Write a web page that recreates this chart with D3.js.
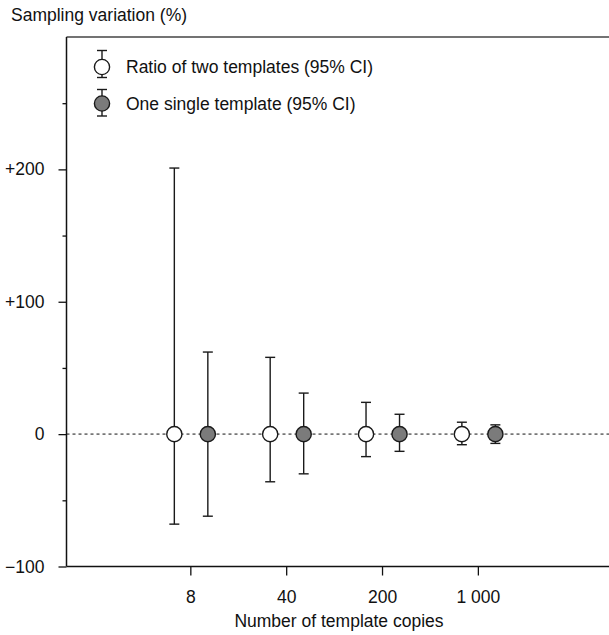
<!DOCTYPE html>
<html>
<head>
<meta charset="utf-8">
<style>
  body { margin: 0; background: #fff; }
  svg { display: block; }
  text { font-family: "Liberation Sans", Arial, sans-serif; fill: #111; }
  .axis text { font-size: 17.5px; }
  .axis line { stroke: #111; stroke-width: 1.3; }
</style>
</head>
<body>
<svg width="609" height="635"></svg>
<script src="https://cdnjs.cloudflare.com/ajax/libs/d3/7.8.5/d3.min.js"></script>
<script>
// copies on the x axis (log scale)
let copies = [8, 40, 200, 1000]
let copyLabels = ["8", "40", "200", "1 000"]

// ratio of two templates: mean and 95% CI
let ratioMean = [0, 0, 0, 0]
let ratioLow  = [-68, -36, -17, -8]
let ratioHigh = [201, 58, 24, 9]

// one single template: mean and 95% CI
let singleMean = [0, 0, 0, 0]
let singleLow  = [-62, -30, -13, -7]
let singleHigh = [62, 31, 15, 7]

let yMajor = [-100, 0, 100, 200]
let yMinor = [-50, 50, 150, 250]
let yLabels = ["\u2212100", "0", "+100", "+200"]

let seriesNames = ["Ratio of two templates (95% CI)", "One single template (95% CI)"]

let svg = d3.select("svg")

let plotLeft = 66.5, plotTop = 37, plotBottom = 566.5, plotRight = 609

let x = d3.scaleLog()
    .domain([1, 10000])
    .range([plotLeft, 615])

let y = d3.scaleLinear()
    .domain([-100, 300])
    .range([plotBottom, plotTop])

// frame lines
svg.append("line")
    .attr("x1", plotLeft).attr("x2", plotRight)
    .attr("y1", plotTop).attr("y2", plotTop)
    .attr("stroke", "#444").attr("stroke-width", 1.5)

// zero reference line
svg.append("line")
    .attr("x1", plotLeft).attr("x2", plotRight)
    .attr("y1", y(0)).attr("y2", y(0))
    .attr("stroke", "#777").attr("stroke-width", 1.6)
    .attr("stroke-dasharray", "3,3")

// y axis: major + minor ticks
svg.append("g")
    .attr("class", "axis")
    .attr("transform", `translate(${plotLeft},0)`)
    .call(d3.axisLeft(y).tickValues(yMajor).tickSize(8).tickSizeOuter(0).tickPadding(14)
        .tickFormat((d, i) => yLabels[i]))
    .call(g => g.select(".domain").remove())

svg.append("g")
    .attr("class", "axis")
    .attr("transform", `translate(${plotLeft},0)`)
    .call(d3.axisLeft(y).tickValues(yMinor).tickSize(4).tickSizeOuter(0).tickFormat(""))
    .call(g => g.select(".domain").remove())

// x axis
svg.append("g")
    .attr("class", "axis")
    .attr("transform", `translate(0,${plotBottom})`)
    .call(d3.axisBottom(x).tickValues(copies).tickSize(9).tickSizeOuter(0).tickPadding(15)
        .tickFormat((d, i) => copyLabels[i]))
    .call(g => g.select(".domain").remove())

svg.append("line")
    .attr("x1", plotLeft).attr("x2", plotLeft)
    .attr("y1", plotTop).attr("y2", plotBottom)
    .attr("stroke", "#111").attr("stroke-width", 1.5)

svg.append("line")
    .attr("x1", plotLeft).attr("x2", plotRight)
    .attr("y1", plotBottom).attr("y2", plotBottom)
    .attr("stroke", "#111").attr("stroke-width", 1.5)

// error bars and points
let series = [
    {name: seriesNames[0], mean: ratioMean, low: ratioLow, high: ratioHigh, fill: "#fff", dx: -16},
    {name: seriesNames[1], mean: singleMean, low: singleLow, high: singleHigh, fill: "#7b7b7b", dx: 17.5}
]

let capW = 5, r = 7.6

function errorBar(g, cx, y1, y2) {
    g.append("line").attr("x1", cx).attr("x2", cx).attr("y1", y1).attr("y2", y2)
    g.append("line").attr("x1", cx - capW).attr("x2", cx + capW).attr("y1", y1).attr("y2", y1)
    g.append("line").attr("x1", cx - capW).attr("x2", cx + capW).attr("y1", y2).attr("y2", y2)
}

series.forEach(s => {
    let g = svg.append("g")
        .attr("stroke", "#1a1a1a").attr("stroke-width", 1.4)
    copies.forEach((c, i) => {
        let cx = x(c) + s.dx
        errorBar(g, cx, y(s.high[i]), y(s.low[i]))
    })
    g.selectAll("circle")
        .data(copies)
        .join("circle")
        .attr("cx", d => x(d) + s.dx)
        .attr("cy", (d, i) => y(s.mean[i]))
        .attr("r", r)
        .attr("fill", s.fill)
})

// legend
let legend = svg.append("g")
series.forEach((s, i) => {
    let cy = 67 + i * 36.5
    let g = legend.append("g").attr("stroke", "#1a1a1a").attr("stroke-width", 1.4)
    errorBar(g, 102, cy - (i == 0 ? 16.5 : 14), cy + (i == 0 ? 10.5 : 12.5))
    g.append("circle").attr("cx", 102).attr("cy", cy).attr("r", r).attr("fill", s.fill)
    legend.append("text")
        .attr("x", 126)
        .attr("y", cy + 6.3)
        .style("font-size", "17.5px")
        .text(s.name)
})

// axis titles
svg.append("text")
    .attr("x", 11)
    .attr("y", 20.5)
    .style("font-size", "17.5px")
    .text("Sampling variation (%)")

svg.append("text")
    .attr("x", 339)
    .attr("y", 627)
    .attr("text-anchor", "middle")
    .style("font-size", "17.5px")
    .text("Number of template copies")
</script>
</body>
</html>
